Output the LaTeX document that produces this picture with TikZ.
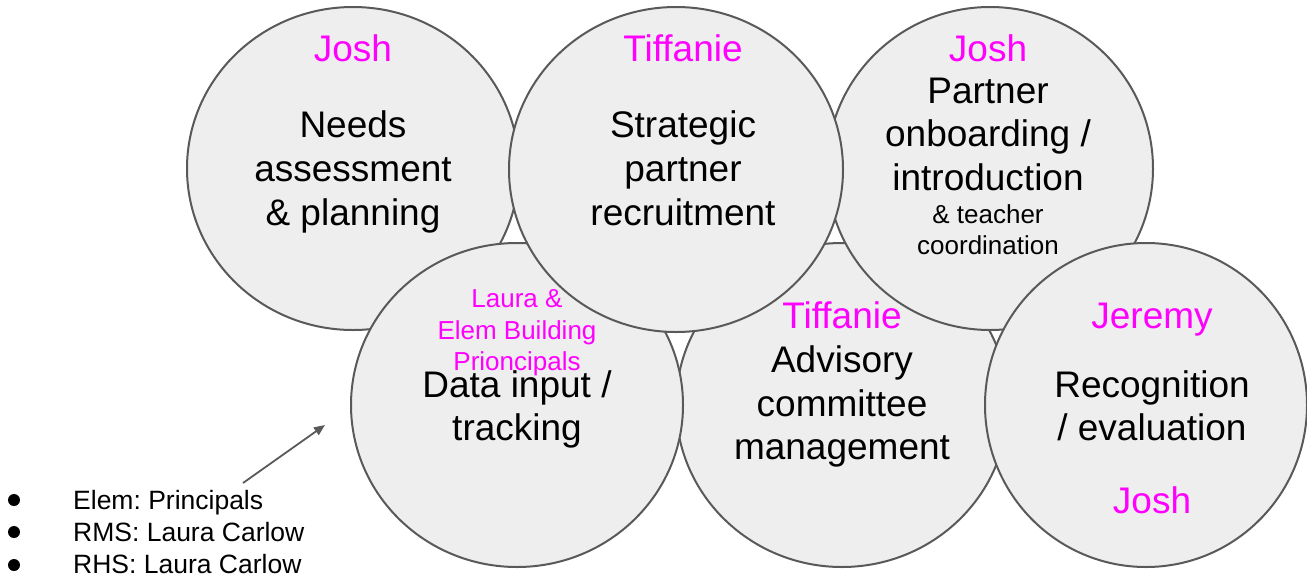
\documentclass[tikz,border=0pt]{standalone}
\usepackage{fontspec}
\setmainfont{Liberation Sans}
\frenchspacing
\usetikzlibrary{arrows.meta}
\definecolor{fillg}{HTML}{EEEEEE}
\definecolor{edgeg}{HTML}{595959}
\definecolor{pinkt}{HTML}{FF00FF}
\begin{document}
\begin{tikzpicture}[x=1pt,y=-1pt,
  bubble/.style={draw=edgeg,fill=fillg,line width=2pt},
  big/.style={font=\fontsize{37}{44}\selectfont,anchor=base,inner sep=0pt},
  bigp/.style={big,text=pinkt},
  small/.style={font=\fontsize{26}{31}\selectfont,anchor=base,inner sep=0pt},
  smallp/.style={small,text=pinkt},
  listt/.style={font=\fontsize{26.5}{31}\selectfont\frenchspacing,anchor=base west,inner sep=0pt}]
\useasboundingbox (0,0) rectangle (1307,579);
% circles in stacking order
\path[bubble] (353,168.5) ellipse [x radius=166, y radius=161.5];
\path[bubble] (842,405) ellipse [x radius=166, y radius=162];
\path[bubble] (990,168.5) ellipse [x radius=163, y radius=161.5];
\path[bubble] (517,405) ellipse [x radius=166, y radius=162];
\path[bubble] (1146,405) ellipse [x radius=161, y radius=162];
\path[bubble] (676,169.5) ellipse [x radius=167, y radius=162.5];
% circle 1
\node[bigp] (n1) at (353,61) {Josh};
\node[big] (a1) at (353,137) {Needs};
\node[big] (a2) at (353,181) {assessment};
\node[big] (a3) at (353,225) {\& planning};
% circle 2
\node[bigp] (n2) at (683,61) {Tiffanie};
\node[big] (b1) at (683,137) {Strategic};
\node[big] (b2) at (683,181) {partner};
\node[big] (b3) at (683,225) {recruitment};
% circle 3
\node[bigp] (n3) at (988,61) {Josh};
\node[big] (c1) at (988,103) {Partner};
\node[big] (c2) at (988,146) {onboarding /};
\node[big] (c3) at (988,190) {introduction};
\node[small] (c4) at (988,223) {\& teacher};
\node[small] (c5) at (988,254) {coordination};
% circle 4
\node[smallp] (n4a) at (517,307) {Laura \&};
\node[smallp] (n4b) at (517,339) {Elem Building};
\node[smallp] (n4c) at (517,370) {Prioncipals};
\node[big] (d1) at (517,397) {Data input /};
\node[big] (d2) at (517,440) {tracking};
% circle 5
\node[bigp] (n5) at (842,328) {Tiffanie};
\node[big] (e1) at (842,372) {Advisory};
\node[big] (e2) at (842,416) {committee};
\node[big] (e3) at (842,459) {management};
% circle 6
\node[bigp] (n6) at (1152,328) {Jeremy};
\node[big] (f1) at (1152,397) {Recognition};
\node[big] (f2) at (1152,440) {/ evaluation};
\node[bigp] (n6b) at (1152,513) {Josh};
% list
\node[listt] (l1) at (73,509) {Elem: Principals};
\node[listt] (l2) at (73,541) {RMS: Laura Carlow};
\node[listt] (l3) at (73,573) {RHS: Laura Carlow};
\fill (14,500) circle (6);
\fill (14,532) circle (6);
\fill (14,565) circle (6);
\coordinate (as) at (243,483);
\coordinate (ae) at (325,425);
\draw[edgeg,line width=1.8pt,-{Triangle[length=11pt,width=9pt]}] (as) -- (ae);
\end{tikzpicture}
\end{document}
